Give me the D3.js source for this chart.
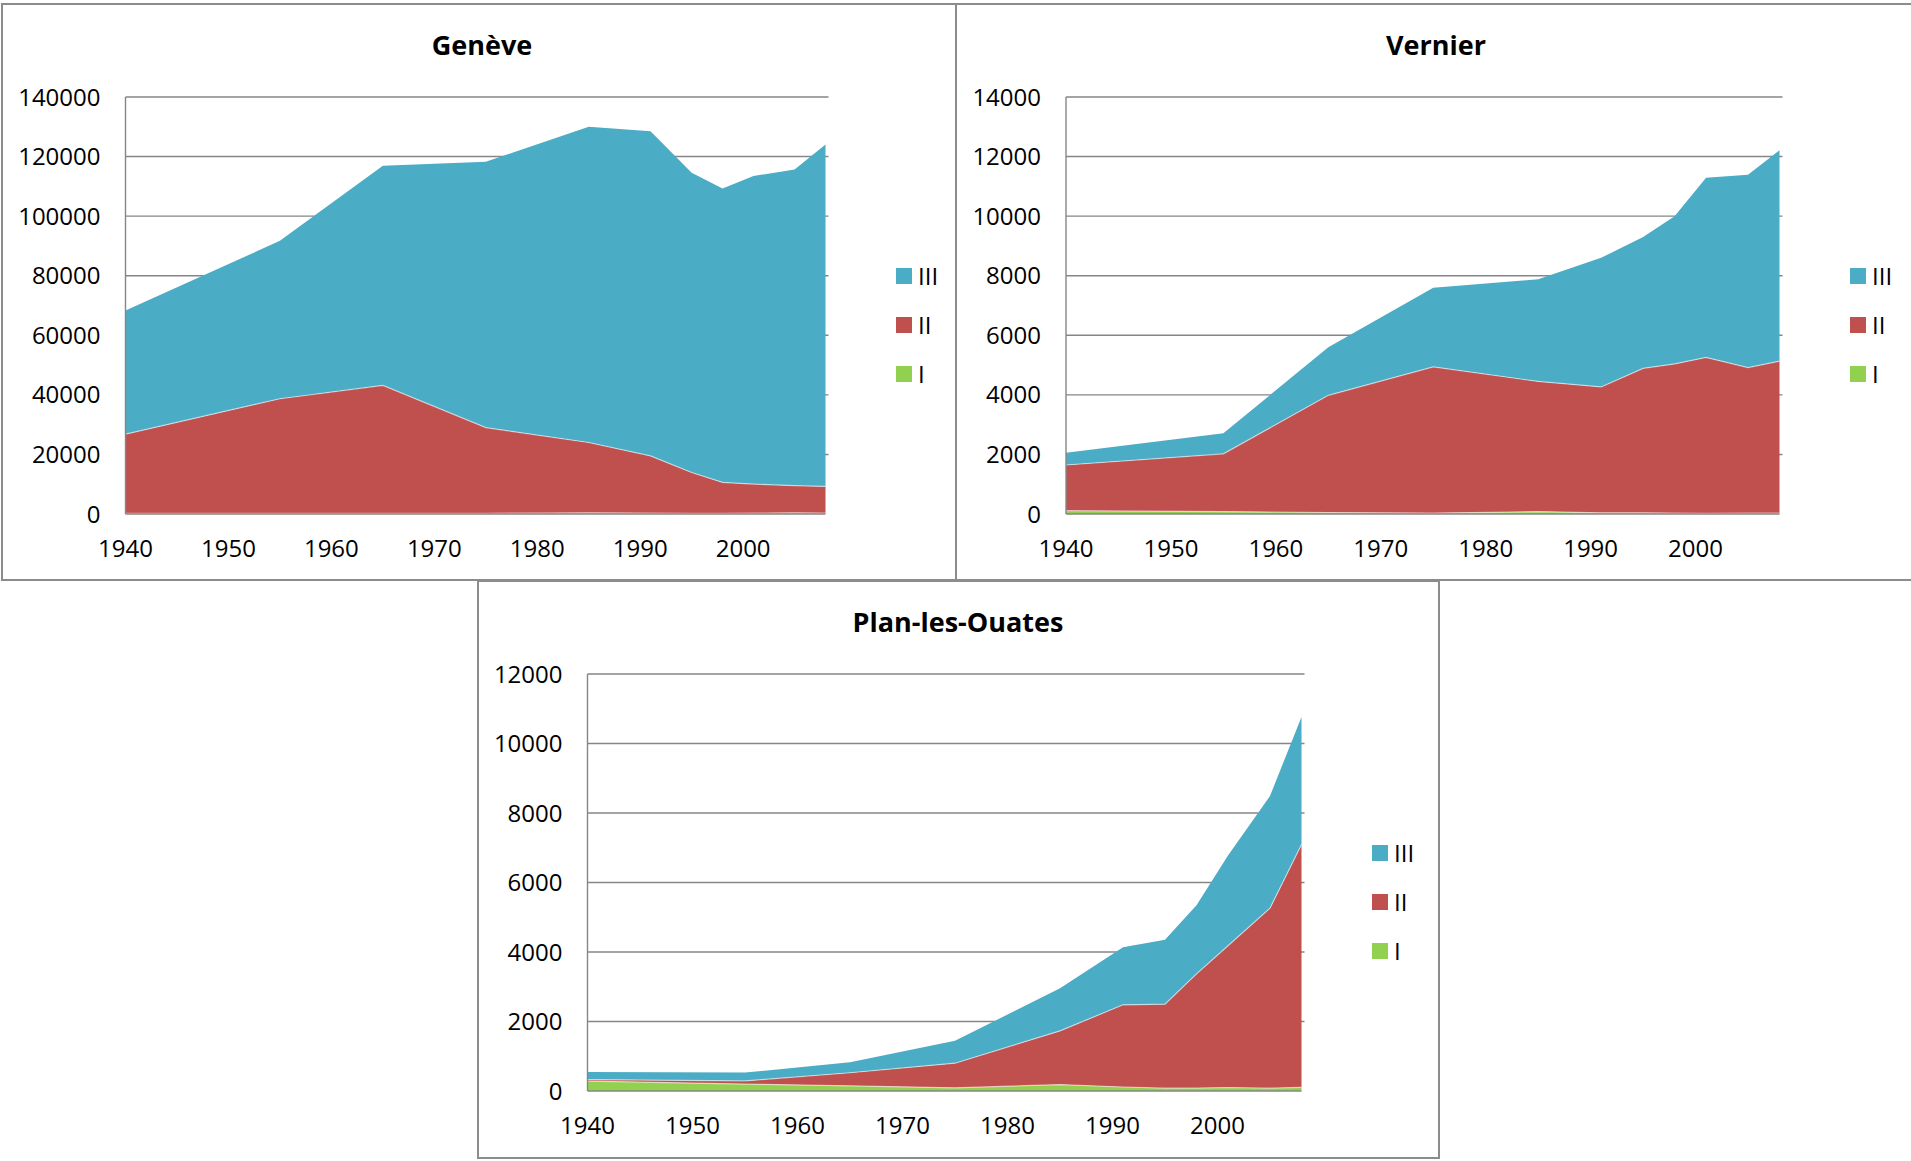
<!DOCTYPE html>
<html>
<head>
<meta charset="utf-8">
<script src="https://cdn.jsdelivr.net/npm/d3@7"></script>
<style>
  body { margin: 0; background: #fff; }
  svg { display: block; }
  text { font-family: "Open Sans", "Noto Sans", sans-serif; fill: #000; }
</style>
</head>
<body>
<script>
var W = 1911, H = 1161

// census years shared by the three communes
var years = [1940, 1955, 1965, 1975, 1985, 1991, 1995, 1998, 2001, 2005, 2008]
var xTicks = [1940, 1950, 1960, 1970, 1980, 1990, 2000]
var sectors = ["I", "II", "III"]

// Genève
var geneveI   = [200, 200, 200, 250, 400, 300, 250, 250, 300, 400, 300]
var geneveII  = [26600, 38500, 43000, 28750, 23600, 19200, 13700, 10350, 9750, 9100, 8950]
var geneveIII = [41500, 53000, 73700, 89250, 106000, 109000, 100600, 98700, 103400, 106200, 114800]
var geneveTicks = [0, 20000, 40000, 60000, 80000, 100000, 120000, 140000]

// Vernier
var vernierI   = [110, 80, 50, 30, 80, 40, 40, 30, 20, 30, 30]
var vernierII  = [1535, 1940, 3935, 4910, 4370, 4225, 4850, 5010, 5235, 4885, 5100]
var vernierIII = [415, 690, 1615, 2660, 3430, 4335, 4410, 4960, 6035, 6475, 7080]
var vernierTicks = [0, 2000, 4000, 6000, 8000, 10000, 12000, 14000]

// Plan-les-Ouates
var ploI   = [285, 200, 150, 90, 185, 115, 80, 85, 100, 80, 105]
var ploII  = [45, 90, 375, 710, 1545, 2365, 2420, 3285, 4080, 5180, 6990]
var ploIII = [220, 240, 300, 645, 1225, 1655, 1850, 1975, 2595, 3230, 3670]
var ploTicks = [0, 2000, 4000, 6000, 8000, 10000, 12000]

var colors = { I: "#92d050", II: "#c0504d", III: "#4bacc6" }

var svg = d3.select("body")
  .append("svg")
  .attr("width", W)
  .attr("height", H)

// panel: x0,y0,w,h of the chart frame; plot box offsets inside it
function drawChart(opt) {
  var g = svg.append("g").attr("transform", "translate(" + opt.x0 + "," + opt.y0 + ")")

  g.append("rect")
    .attr("x", 0).attr("y", 0)
    .attr("width", opt.w).attr("height", opt.h)
    .attr("fill", "#fff")
    .attr("stroke", "#8c8c8c")
    .attr("stroke-width", 2)

  var top = 93, bottom = 510, left = opt.left, right = 823.5

  var x = d3.scaleLinear().domain([1940, 2008]).range([left, right])
  var y = d3.scaleLinear().domain([0, d3.max(opt.ticks)]).range([bottom, top])

  var rows = years.map(function(yr, i) {
    return { year: yr, I: opt.I[i], II: opt.II[i], III: opt.III[i] }
  })
  var stack = d3.stack().keys(sectors)(rows)

  // gridlines
  g.selectAll(".grid")
    .data(opt.ticks.filter(function(t) { return t > 0 }))
    .enter().append("line")
    .attr("x1", left).attr("x2", right + 3)
    .attr("y1", function(d) { return y(d) }).attr("y2", function(d) { return y(d) })
    .attr("stroke", "#868686")
    .attr("stroke-width", 1.4)

  var area = d3.area()
    .x(function(d) { return x(d.data.year) })
    .y0(function(d) { return y(d[0]) })
    .y1(function(d) { return y(d[1]) })

  var edge = d3.line()
    .x(function(d) { return x(d.data.year) })
    .y(function(d) { return y(d[1]) })

  g.selectAll(".layer")
    .data(stack)
    .enter().append("path")
    .attr("d", area)
    .attr("fill", function(d) { return colors[d.key] })

  g.selectAll(".edge")
    .data(stack.slice(0, 2))
    .enter().append("path")
    .attr("d", edge)
    .attr("fill", "none")
    .attr("stroke", "#ffffff")
    .attr("stroke-opacity", 0.55)
    .attr("stroke-width", 1.2)

  // axis lines
  g.append("line")
    .attr("x1", left).attr("x2", left)
    .attr("y1", top).attr("y2", bottom)
    .attr("stroke", "#868686").attr("stroke-width", 1.4)
  g.append("line")
    .attr("x1", left).attr("x2", right)
    .attr("y1", bottom).attr("y2", bottom)
    .attr("stroke", "#868686").attr("stroke-width", 1.4)

  g.selectAll(".ylab")
    .data(opt.ticks)
    .enter().append("text")
    .attr("x", left - 25)
    .attr("y", function(d) { return y(d) })
    .attr("dy", "0.36em")
    .attr("text-anchor", "end")
    .style("font-size", "24px")
    .text(function(d) { return d })

  g.selectAll(".xlab")
    .data(xTicks)
    .enter().append("text")
    .attr("x", function(d) { return x(d) })
    .attr("y", bottom + 42.5)
    .attr("text-anchor", "middle")
    .style("font-size", "24px")
    .text(function(d) { return d })

  g.append("text")
    .attr("x", 480)
    .attr("y", 50.5)
    .attr("text-anchor", "middle")
    .style("font-size", "27px")
    .style("font-weight", "bold")
    .text(opt.title)

  var legend = g.selectAll(".leg")
    .data(sectors.slice().reverse())
    .enter().append("g")
    .attr("transform", function(d, i) { return "translate(894," + (272 + i * 49) + ")" })
  legend.append("rect")
    .attr("x", 0).attr("y", -8)
    .attr("width", 16).attr("height", 16)
    .attr("fill", function(d) { return colors[d] })
  legend.append("text")
    .attr("x", 22)
    .attr("dy", "0.36em")
    .style("font-size", "24px")
    .text(function(d) { return d })
}

drawChart({ title: "Genève", x0: 2, y0: 4, w: 954, h: 576, left: 123.5,
  ticks: geneveTicks, I: geneveI, II: geneveII, III: geneveIII })
drawChart({ title: "Vernier", x0: 956, y0: 4, w: 970, h: 576, left: 110,
  ticks: vernierTicks, I: vernierI, II: vernierII, III: vernierIII })
drawChart({ title: "Plan-les-Ouates", x0: 478, y0: 581, w: 961, h: 577, left: 109.5,
  ticks: ploTicks, I: ploI, II: ploII, III: ploIII })
</script>
</body>
</html>
